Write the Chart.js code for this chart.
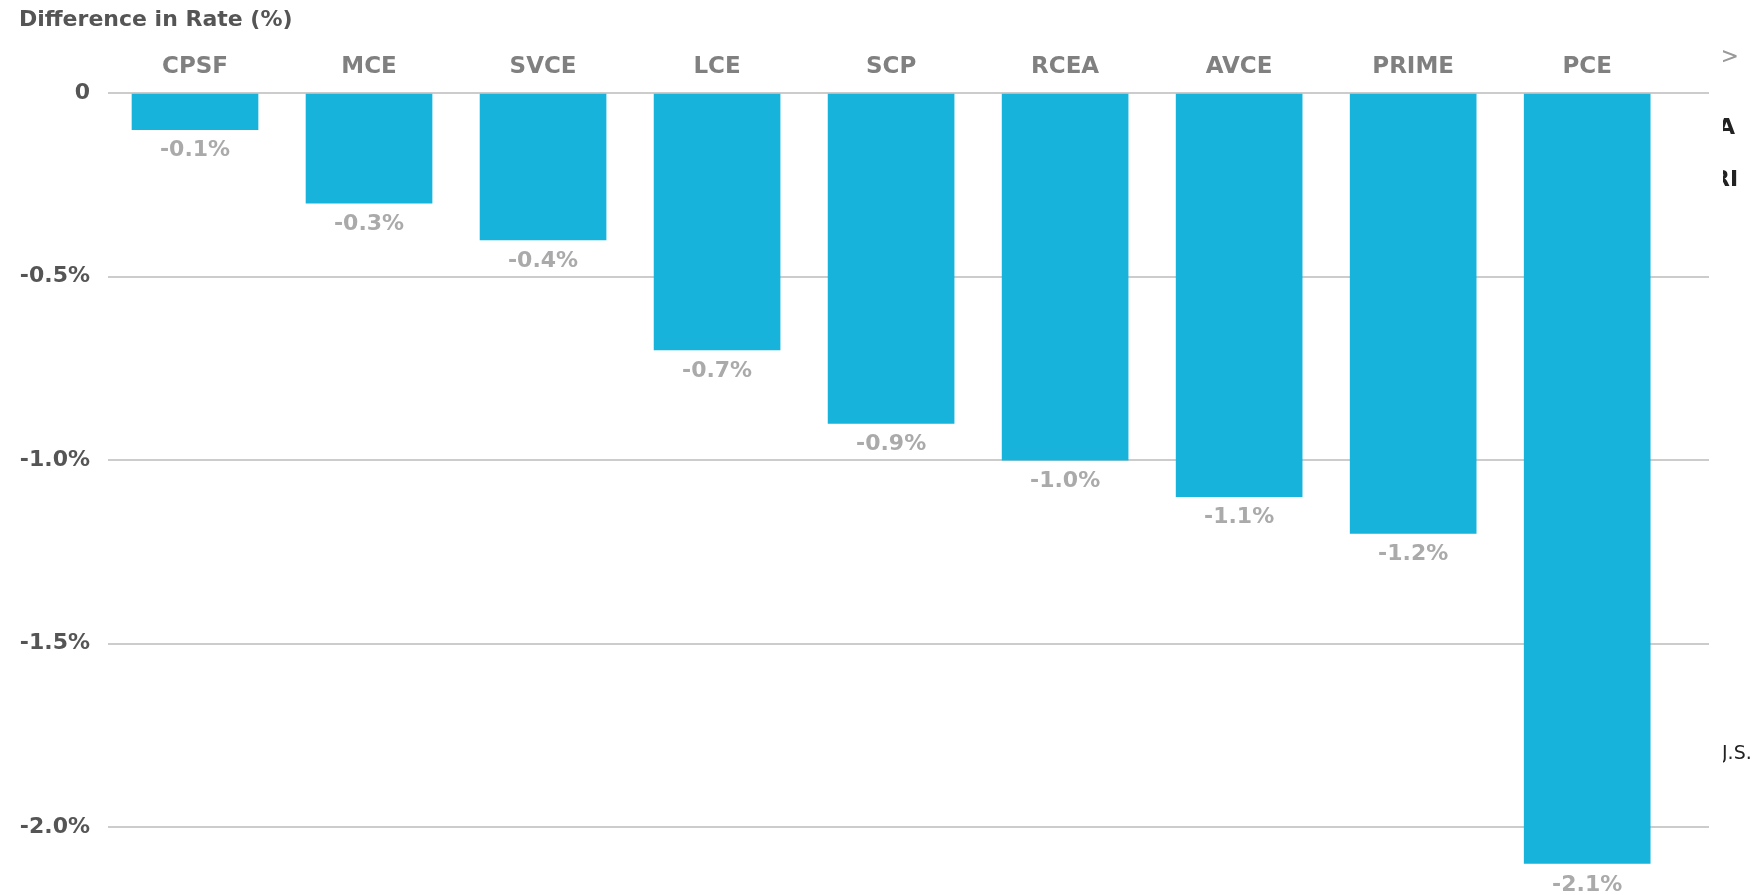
<!DOCTYPE html>
<html lang="en">
<head>
    <meta charset="UTF-8">
    <title>Difference in Rate (%)</title>
    <script src="https://cdn.jsdelivr.net/npm/chart.js"></script>
    <style>
        body {
            margin: 0;
            padding: 0;
            background: #ffffff;
            font-family: "DejaVu Sans", Arial, sans-serif;
        }

        .wrap {
            position: relative;
            width: 1759px;
            height: 895px;
        }

        .title {
            position: absolute;
            left: 19px;
            top: 6px;
            font-size: 22px;
            font-weight: bold;
            color: #555555;
        }

        /* bits of clipped text on the right edge of the original screenshot */
        .edge {
            position: absolute;
            left: 1723px;
            top: 0;
            width: 36px;
            height: 895px;
            overflow: hidden;
            font-weight: bold;
            color: #222;
        }

        .edge span {
            position: absolute;
            font-size: 22px;
        }

        canvas {
            position: absolute;
            left: 0;
            top: 0;
        }
    </style>
</head>
<body>
<div class="wrap">
    <canvas id="rateChart" width="1759" height="895"></canvas>
    <div class="title">Difference in Rate (%)</div>
    <div class="edge">
        <span style="left:-4px; top:42px; color:#999; font-weight:normal; font-size:24px;">&gt;</span>
        <span style="left:-5px; top:114px;">A</span>
        <span style="left:-10px; top:166px;">RI</span>
        <span style="left:-1px; top:741px; font-size:19px; font-weight:normal;">J.S.</span>
    </div>
</div>

<script>
    // chart data
    var categories = ['CPSF', 'MCE', 'SVCE', 'LCE', 'SCP', 'RCEA', 'AVCE', 'PRIME', 'PCE'];
    var rateDiff = [-0.1, -0.3, -0.4, -0.7, -0.9, -1.0, -1.1, -1.2, -2.1];
    var yTicks = [0, -0.5, -1.0, -1.5, -2.0];

    var fontFamily = '"DejaVu Sans", Arial, sans-serif';

    function pct(v) {
        return v === 0 ? '0' : v.toFixed(1) + '%';
    }

    // value labels under each bar
    var barLabels = {
        id: 'barLabels',
        afterDatasetsDraw: function (chart) {
            var ctx = chart.ctx;
            var meta = chart.getDatasetMeta(0);
            ctx.save();
            ctx.font = 'bold 22px ' + fontFamily;
            ctx.fillStyle = '#aaaaaa';
            ctx.textAlign = 'center';
            ctx.textBaseline = 'top';
            meta.data.forEach(function (bar, i) {
                ctx.fillText(pct(rateDiff[i]), bar.x, bar.y + 10);
            });
            ctx.restore();
        }
    };

    var ctx = document.getElementById('rateChart').getContext('2d');

    new Chart(ctx, {
        type: 'bar',
        data: {
            datasets: [{
                data: categories.map(function (c, i) { return { x: i, y: rateDiff[i] }; }),
                backgroundColor: '#17b3db',
                borderWidth: 0,
                barThickness: 126
            }]
        },
        options: {
            responsive: false,
            animation: false,
            layout: {
                padding: { top: 0, left: 0, right: 50, bottom: 30 }
            },
            plugins: {
                legend: { display: false },
                tooltip: { enabled: false }
            },
            scales: {
                x: {
                    type: 'linear',
                    position: 'top',
                    offset: false,
                    min: -0.5,
                    max: 8.7,
                    afterFit: function (s) { s.height = 93; },
                    grid: { display: false, drawTicks: false, offset: false },
                    border: { display: false },
                    ticks: {
                        stepSize: 1,
                        includeBounds: false,
                        autoSkip: false,
                        maxRotation: 0,
                        padding: 12,
                        color: '#808080',
                        font: { family: fontFamily, size: 23, weight: 'bold' },
                        callback: function (v) { return categories[v] || ''; }
                    }
                },
                y: {
                    min: -2.1,
                    max: 0,
                    afterFit: function (s) { s.width = 108; },
                    afterBuildTicks: function (s) {
                        s.ticks = yTicks.map(function (v) { return { value: v }; });
                    },
                    grid: {
                        color: '#cccccc',
                        lineWidth: 2,
                        drawTicks: false
                    },
                    border: { display: false },
                    ticks: {
                        padding: 18,
                        color: '#555555',
                        font: { family: fontFamily, size: 22, weight: 'bold' },
                        callback: function (v) { return pct(v); }
                    }
                }
            }
        },
        plugins: [barLabels]
    });
</script>
</body>
</html>
